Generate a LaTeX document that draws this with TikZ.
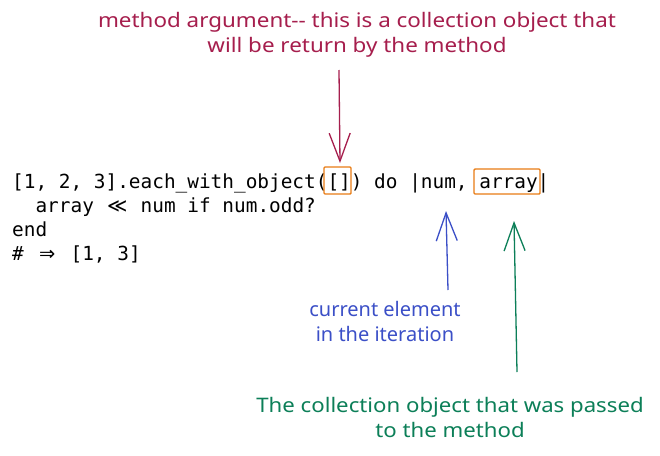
\documentclass[tikz,border=0pt]{standalone}
\usepackage{fontspec}
\usepackage{graphicx}
\usetikzlibrary{arrows.meta}
\setmainfont{Noto Sans}
\newfontfamily\codefont{DejaVu Sans Mono}
\newfontfamily\symfont{DejaVu Sans}
\definecolor{mag}{HTML}{A61E4D}
\definecolor{indg}{HTML}{3B4FC7}
\definecolor{teal}{HTML}{0C7F58}
\definecolor{boxor}{RGB}{232,124,20}
\newcommand{\lig}[1]{\makebox[23.4pt]{\symfont #1}}
\newcommand{\notetext}[2]{\scalebox{#1}[1]{\begin{tabular}{@{}c@{}}#2\end{tabular}}}
\tikzset{
  codeline/.style={anchor=base west, inner sep=0pt, font=\codefont\fontsize{19.4}{24}\selectfont},
  note/.style={inner sep=0pt, font=\fontsize{20}{25}\selectfont},
  obox/.style={draw=boxor, line width=1.4pt, rounded corners=1pt, inner sep=0pt},
  sketcharrow/.style={line width=1.3pt, -{Straight Barb[length=28pt,width=21pt,line width=1.3pt]}},
}
\begin{document}
\begin{tikzpicture}[x=1pt,y=-1pt]
\useasboundingbox[fill=white] (0,0) rectangle (660,455);
% code
\node[codeline] (l1) at (12,188) {[1, 2, 3].each\_with\_object([]) do |num, array|};
\node[codeline] (l2) at (12,212) {\ \ array \lig{≪} num if num.odd?};
\node[codeline] (l3) at (12,236) {end};
\node[codeline] (l4) at (12,260) {\# \lig{⇒} [1, 3]};
% highlight boxes
\node[obox, minimum width=27pt, minimum height=27pt] (argbox) at (337.5,180.5) {};
\node[obox, minimum width=66pt, minimum height=25pt] (arrbox) at (507,181.5) {};
% notes
\node[note, text=mag] (mnote) at (357,35) {\notetext{1.12}{method argument-{}- this is a collection object that\\will be return by the method}};
\node[note, text=indg] (bnote) at (385,324) {\notetext{1.0}{current element\\in the iteration}};
\node[note, text=teal] (gnote) at (450,420) {\notetext{1.11}{The collection object that was passed\\to the method}};
% arrow endpoints
\coordinate (mtail) at (339,70);
\coordinate (mtip) at (340,163);
\coordinate (btail) at (448,290);
\coordinate (btip) at (446,211);
\coordinate (gtail) at (517,372);
\coordinate (gtip) at (514,221);
\draw[sketcharrow, mag] (mtail) -- (mtip);
\draw[sketcharrow, indg] (btail) -- (btip);
\draw[sketcharrow, teal] (gtail) -- (gtip);
\end{tikzpicture}
\end{document}
